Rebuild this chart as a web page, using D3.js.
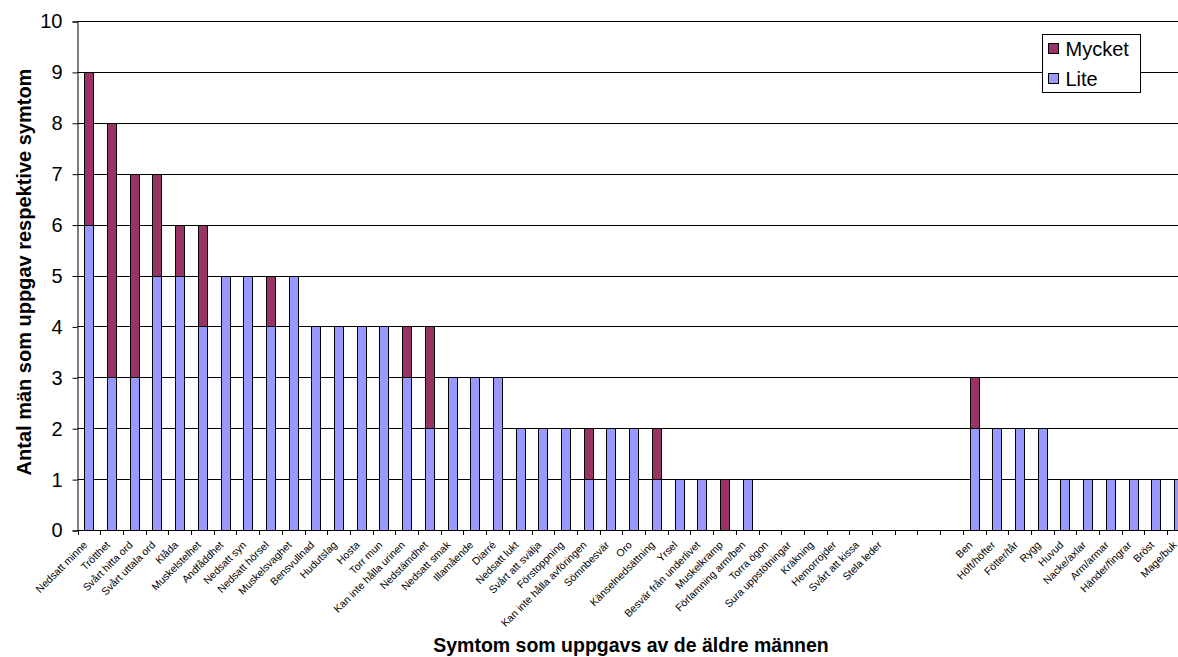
<!DOCTYPE html>
<html>
<head>
<meta charset="utf-8">
<script src="https://cdn.jsdelivr.net/npm/d3@7"></script>
<style>
  html, body { margin: 0; padding: 0; background: #fff; }
  svg { display: block; font-family: "Liberation Sans", Arial, sans-serif; }
</style>
</head>
<body>
<svg id="chart" width="1178" height="657"></svg>
<script>
// Symptoms reported by the older men, ordered as on the axis ("" = empty slot)
const categories = [
  "Nedsatt minne", "Trötthet", "Svårt hitta ord", "Svårt uttala ord", "Klåda",
  "Muskelstelhet", "Andfåddhet", "Nedsatt syn", "Nedsatt hörsel", "Muskelsvaghet",
  "Bensvullnad", "Hudutslag", "Hosta", "Torr mun", "Kan inte hålla urinen",
  "Nedstämdhet", "Nedsatt smak", "Illamående", "Diarré", "Nedsatt lukt",
  "Svårt att svälja", "Förstoppning", "Kan inte hålla avföringen", "Sömnbesvär", "Oro",
  "Känselnedsättning", "Yrsel", "Besvär från underlivet", "Muskelkramp", "Förlamning arm/ben",
  "Torra ögon", "Sura uppstötningar", "Kräkning", "Hemorrojder", "Svårt att kissa",
  "Stela leder", "", "", "",
  "Ben", "Höft/höfter", "Fötter/tår", "Rygg", "Huvud",
  "Nacke/axlar", "Arm/armar", "Händer/fingrar", "Bröst", "Mage/buk"
];
const lite = [
  6, 3, 3, 5, 5, 4, 5, 5, 4, 5,
  4, 4, 4, 4, 3, 2, 3, 3, 3, 2,
  2, 2, 1, 2, 2, 1, 1, 1, 0, 1,
  0, 0, 0, 0, 0, 0, 0, 0, 0,
  2, 2, 2, 2, 1, 1, 1, 1, 1, 1
];
const mycket = [
  3, 5, 4, 2, 1, 2, 0, 0, 1, 0,
  0, 0, 0, 0, 1, 2, 0, 0, 0, 0,
  0, 0, 1, 0, 0, 1, 0, 0, 1, 0,
  0, 0, 0, 0, 0, 0, 0, 0, 0,
  1, 0, 0, 0, 0, 0, 0, 0, 0, 0
];
const seriesNames = ["Lite", "Mycket"];
const seriesColors = { Lite: "#9999FF", Mycket: "#993366" };
const yTicks = [0, 1, 2, 3, 4, 5, 6, 7, 8, 9, 10];
const yTitle = "Antal män som uppgav respektive symtom";
const xTitle = "Symtom som uppgavs av de äldre männen";

const W = 1178, H = 657;
const plotLeft = 77.5, plotTop = 21, plotBottom = 530;
const step = 22.7;

const svg = d3.select("#chart");

const rows = categories.map((c, i) => ({ key: i, name: c, Lite: lite[i], Mycket: mycket[i] }));
const stacked = d3.stack().keys(seriesNames)(rows);

const x = d3.scaleBand()
  .domain(rows.map(d => d.key))
  .range([plotLeft, plotLeft + step * categories.length])
  .paddingInner(0.6)
  .paddingOuter(0.3);
const y = d3.scaleLinear().domain([0, 10]).range([plotBottom, plotTop]);

// horizontal gridlines
svg.append("g")
  .selectAll("line")
  .data(yTicks.slice(1))
  .join("line")
  .attr("x1", plotLeft).attr("x2", W)
  .attr("y1", d => Math.round(y(d)) + 0.5).attr("y2", d => Math.round(y(d)) + 0.5)
  .attr("stroke", "#000").attr("stroke-width", 1);

// stacked bars
const barW = 9;
const cx = k => x(k) + x.bandwidth() / 2;
svg.append("g")
  .selectAll("g")
  .data(stacked)
  .join("g")
  .attr("fill", s => seriesColors[s.key])
  .selectAll("rect")
  .data(s => s.filter(d => d[1] > d[0]))
  .join("rect")
  .attr("x", d => Math.round(cx(d.data.key) - barW / 2) + 0.5)
  .attr("width", barW)
  .attr("y", d => Math.round(y(d[1])) + 0.5)
  .attr("height", d => Math.round(y(d[0])) - Math.round(y(d[1])))
  .attr("stroke", "#000").attr("stroke-width", 1);

// y axis
const yAxis = d3.axisLeft(y).tickValues(yTicks).tickSize(5).tickPadding(10);
const gy = svg.append("g")
  .attr("transform", `translate(${plotLeft},0.5)`)
  .call(yAxis);
gy.select(".domain").attr("stroke", "#000");
gy.selectAll(".tick line").attr("stroke", "#000");
gy.selectAll(".tick text")
  .attr("font-size", 20).attr("fill", "#000")
  .attr("font-family", "Liberation Sans, Arial, sans-serif");

// x axis: baseline and tick marks at category boundaries
const gx = svg.append("g");
gx.append("line")
  .attr("x1", plotLeft).attr("x2", W)
  .attr("y1", plotBottom + 0.5).attr("y2", plotBottom + 0.5)
  .attr("stroke", "#000");
gx.selectAll("line.tk")
  .data(d3.range(categories.length + 1))
  .join("line")
  .attr("class", "tk")
  .attr("x1", i => Math.round(plotLeft + step * i) + 0.5)
  .attr("x2", i => Math.round(plotLeft + step * i) + 0.5)
  .attr("y1", plotBottom).attr("y2", plotBottom + 5)
  .attr("stroke", "#000");

// rotated category labels
gx.selectAll("text")
  .data(rows.filter(d => d.name !== ""))
  .join("text")
  .attr("transform", d => `translate(${cx(d.key) - 3.5},${plotBottom + 13}) rotate(-45)`)
  .attr("text-anchor", "end")
  .attr("dy", "0.35em")
  .attr("font-size", 10.5)
  .attr("fill", "#000")
  .text(d => d.name);

// axis titles
svg.append("text")
  .attr("transform", `translate(31,272) rotate(-90)`)
  .attr("text-anchor", "middle")
  .attr("font-size", 20).attr("font-weight", "bold")
  .text(yTitle);
svg.append("text")
  .attr("x", 631).attr("y", 652)
  .attr("text-anchor", "middle")
  .attr("font-size", 19.5).attr("font-weight", "bold")
  .text(xTitle);

// legend
const lg = svg.append("g").attr("transform", "translate(1042.5,34.5)");
lg.append("rect").attr("width", 98).attr("height", 58)
  .attr("fill", "#fff").attr("stroke", "#000");
["Mycket", "Lite"].forEach((k, i) => {
  const yy = 9 + i * 30;
  lg.append("rect").attr("x", 6).attr("y", yy).attr("width", 10).attr("height", 10)
    .attr("fill", seriesColors[k]).attr("stroke", "#000");
  lg.append("text").attr("x", 23).attr("y", yy + 5).attr("dy", "0.35em")
    .attr("font-size", 20).attr("fill", "#000").text(k);
});
</script>
</body>
</html>
